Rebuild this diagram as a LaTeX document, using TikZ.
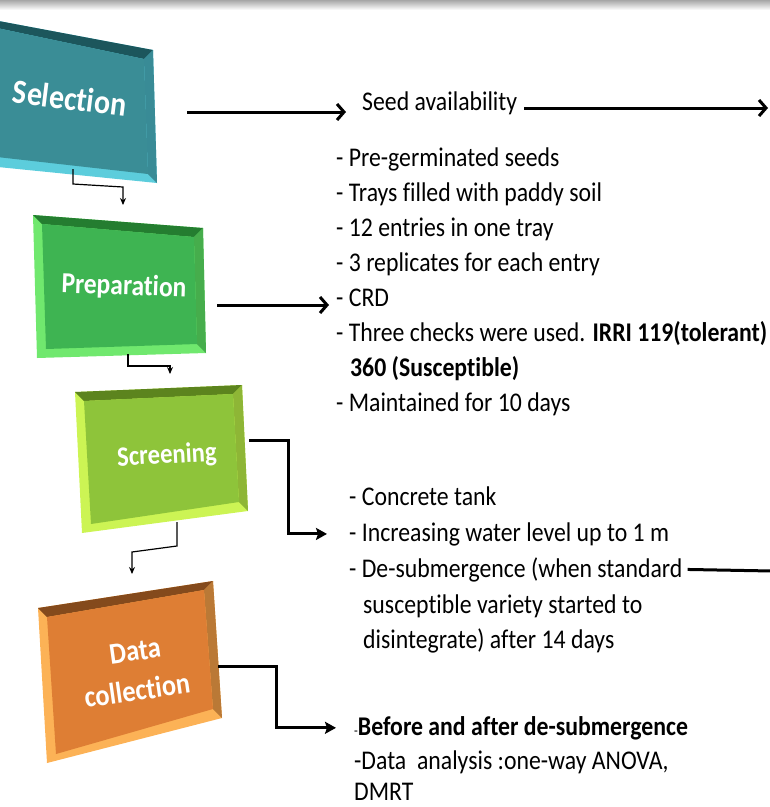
\documentclass[tikz,border=0pt]{standalone}
\usepackage{fontspec}
\setmainfont{Carlito}[FakeStretch=0.88, Ligatures={CommonOff,ContextualOff,RareOff}, Contextuals=AlternateOff]
\usetikzlibrary{arrows.meta,calc}

\definecolor{selFace}{RGB}{58,141,150}
\definecolor{selLight}{RGB}{92,205,220}
\definecolor{selDark}{RGB}{28,86,92}
\definecolor{prepFace}{RGB}{62,180,82}
\definecolor{prepLight}{RGB}{112,232,110}
\definecolor{prepDark}{RGB}{36,125,48}
\definecolor{scrFace}{RGB}{142,196,58}
\definecolor{scrLight}{RGB}{204,244,84}
\definecolor{scrDark}{RGB}{92,132,30}
\definecolor{dataFace}{RGB}{222,126,52}
\definecolor{dataLight}{RGB}{252,178,86}
\definecolor{dataDark}{RGB}{132,74,28}

% bevelled box: corners tl, tr, br, bl; face, light and dark colours
\newcommand{\bevelbox}[7]{%
  \fill[#6] #1 -- #2 -- #3 -- #4 -- cycle;
  \fill[#7] #1 -- #2 -- ($#2+(-9,9)$) -- ($#1+(9,9)$) -- cycle;
  \fill[#7!55!#6] #2 -- #3 -- ($#3+(-9,-9)$) -- ($#2+(-9,9)$) -- cycle;
  \fill[#5] ($#1+(9,9)$) -- ($#2+(-9,9)$) -- ($#3+(-9,-9)$) -- ($#4+(9,-9)$) -- cycle;
}

\tikzset{
  listtext/.style={anchor=base west, inner sep=0pt, font=\fontsize{27}{36}\selectfont},
  boxlabel/.style={text=white, inner sep=0pt, align=center},
  fatarrow/.style={line width=3pt, -{Straight Barb[length=7pt,width=16pt]}},
  solidarrow/.style={line width=3pt, -{Stealth[length=11pt,width=12pt,inset=2pt]}},
  thinarrow/.style={line width=1.2pt, -{Stealth[length=7pt,width=6pt]}}
}

\begin{document}
\begin{tikzpicture}[x=1pt, y=-1pt]
  \useasboundingbox (0,0) rectangle (770,807);
  \clip (0,0) rectangle (770,807);

  % grey band at the top
  \shade[top color=black!35, bottom color=white] (0,0) rectangle (770,10);

  % the four boxes
  \bevelbox{(-12,19)}{(153,50)}{(157,183)}{(-12,166)}{selFace}{selLight}{selDark}
  \bevelbox{(33,215)}{(203,228)}{(206,353)}{(37,358)}{prepFace}{prepLight}{prepDark}
  \bevelbox{(75,392)}{(242,385)}{(248,511)}{(82,533)}{scrFace}{scrLight}{scrDark}
  \bevelbox{(38,608)}{(213,581)}{(222,718)}{(47,763)}{dataFace}{dataLight}{dataDark}

  % box labels
  \node[boxlabel, rotate=-7, font=\fontsize{34}{40}\selectfont\bfseries] (sel) at (70,98) {Selection};
  \node[boxlabel, rotate=-2, font=\fontsize{29}{34}\selectfont\bfseries] (prep) at (124,287) {Preparation};
  \node[boxlabel, rotate=3, font=\fontsize{28}{34}\selectfont\bfseries] (scr) at (167,456) {Screening};
  \node[boxlabel, rotate=8, font=\fontsize{30}{35}\selectfont\bfseries] (data1) at (135,651) {Data};
  \node[boxlabel, rotate=8, font=\fontsize{30}{35}\selectfont\bfseries] (data2) at (137,690) {collection};

  % seed availability
  \node[listtext] (seed) at (362,110) {Seed availability};

  % preparation list
  \node[listtext] (pre) at (336,166) {- Pre-germinated seeds};
  \node[listtext] (trays) at (336,201) {- Trays filled with paddy soil};
  \node[listtext] (entries) at (336,236) {- 12 entries in one tray};
  \node[listtext] (reps) at (336,271) {- 3 replicates for each entry};
  \node[listtext] (crd) at (336,306) {- CRD};
  \node[listtext] (checks) at (336,341) {- Three checks were used. \textbf{IRRI 119(tolerant)}};
  \node[listtext] (susc) at (350,376) {\textbf{360 (Susceptible)}};
  \node[listtext] (days) at (336,411) {- Maintained for 10 days};

  % screening list
  \node[listtext] (tank) at (349,505) {- Concrete tank};
  \node[listtext] (inc) at (349,541) {- Increasing water level up to 1 m};
  \node[listtext] (desub) at (349,577) {- De-submergence (when standard};
  \node[listtext] (var) at (363,613) {susceptible variety started to};
  \node[listtext] (dis) at (363,648) {disintegrate) after 14 days};

  % data list
  \node[listtext] (before) at (354,735) {{\fontsize{14}{14}\selectfont -}\textbf{Before and after de-submergence}};
  \node[listtext] (anova) at (354,769) {-Data\ \ analysis :one-way ANOVA,};
  \node[listtext] (dmrt) at (354,800) {DMRT};

  % connector end points
  \coordinate (selR) at (187,112);
  \coordinate (prepR) at (217,305);
  \coordinate (scrR) at (249,440);
  \coordinate (dataR) at (218,666);
  \coordinate (rightA) at (768,108);
  \coordinate (rightB) at (772,571);
  \coordinate (selB) at (73,169);
  \coordinate (prepT) at (123,205);
  \coordinate (prepB) at (128,354);
  \coordinate (scrT) at (170,374);
  \coordinate (scrB) at (177,522);
  \coordinate (dataT) at (132,574);

  % thick arrows
  \draw[fatarrow] (selR) -- ([xshift=-16pt]selR -| seed.west);
  \draw[fatarrow] ([xshift=7pt]seed.east |- rightA) -- (rightA);
  \draw[fatarrow] (prepR) -- ([xshift=-7pt]prepR -| crd.west);
  \draw[solidarrow] (scrR) -- ++(39,0) |- ([xshift=-22pt]inc.west);
  \draw[line width=3pt] ([xshift=5pt]desub.east) -- (rightB);
  \draw[solidarrow] (dataR) -- ++(58,0) |- ([xshift=-18pt]before.west);

  % thin arrows between boxes
  \draw[thinarrow] (selB) -- ++(0,15) -- ($(prepT)+(0,-18)$) -- (prepT);
  \draw[thinarrow] (prepB) -- ++(0,12) -- ($(scrT)+(0,-8)$) -- (scrT);
  \draw[thinarrow] (scrB) -- ++(0,24) -- ($(dataT)+(0,-22)$) -- (dataT);
\end{tikzpicture}
\end{document}
